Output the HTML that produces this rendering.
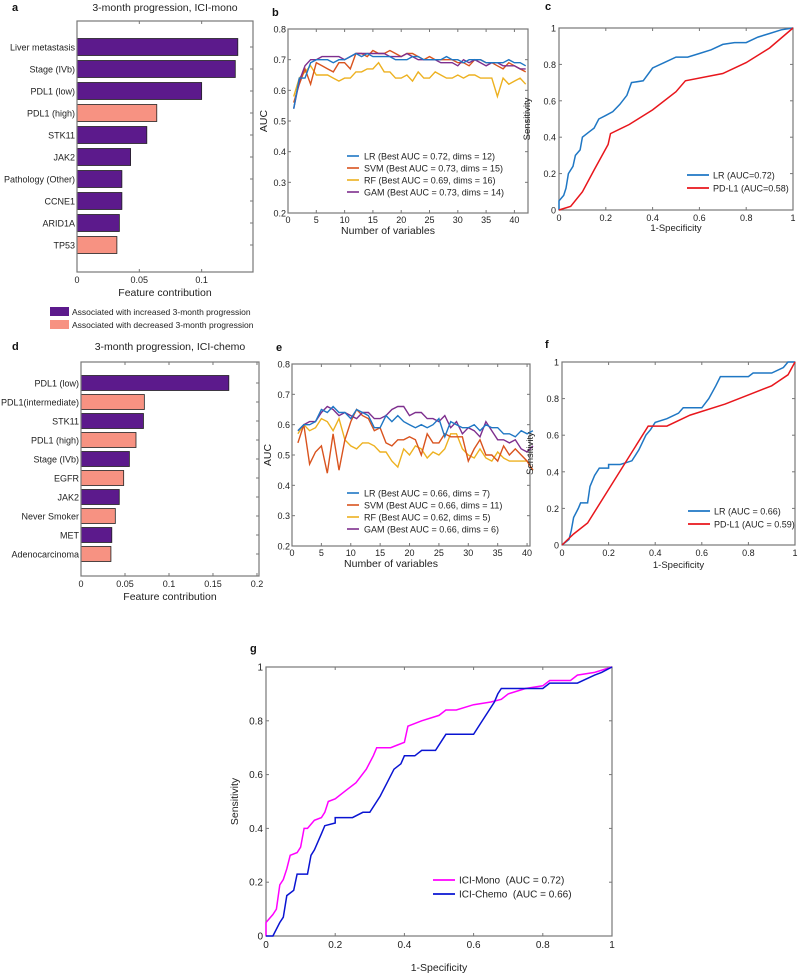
<!DOCTYPE html>
<html><head><meta charset="utf-8"><style>
body{margin:0;background:#fff;}
svg{display:block;font-family:"Liberation Sans",sans-serif;}
text{white-space:pre;}
</style></head><body>
<svg id="fig" width="798" height="976" viewBox="0 0 798 976" xmlns="http://www.w3.org/2000/svg"></svg>
<script>
// ---- Panel a data
const aLabels=["Liver metastasis","Stage (IVb)","PDL1 (low)","PDL1 (high)","STK11","JAK2","Pathology (Other)","CCNE1","ARID1A","TP53"];
const aValues=[0.129,0.127,0.100,0.064,0.056,0.043,0.036,0.036,0.034,0.032];
const aDir=["inc","inc","inc","dec","inc","inc","inc","inc","inc","dec"];
const aTicks=[0,0.05,0.1];
// ---- Panel d data
const dLabels=["PDL1 (low)","PDL1(intermediate)","STK11","PDL1 (high)","Stage (IVb)","EGFR","JAK2","Never Smoker","MET","Adenocarcinoma"];
const dValues=[0.168,0.072,0.071,0.0625,0.055,0.0485,0.0435,0.039,0.035,0.034];
const dDir=["inc","dec","inc","dec","inc","dec","inc","dec","inc","dec"];
const dTicks=[0,0.05,0.1,0.15,0.2];
// ---- Panel b data (x = 1..42)
const bLR=[0.54,0.64,0.64,0.69,0.70,0.70,0.70,0.69,0.70,0.70,0.71,0.72,0.71,0.72,0.71,0.71,0.71,0.71,0.70,0.70,0.70,0.71,0.71,0.70,0.70,0.70,0.70,0.71,0.70,0.70,0.69,0.70,0.70,0.70,0.69,0.69,0.69,0.69,0.70,0.69,0.69,0.68];
const bSVM=[0.56,0.62,0.67,0.62,0.69,0.68,0.67,0.66,0.69,0.69,0.67,0.72,0.72,0.71,0.73,0.72,0.72,0.73,0.72,0.71,0.72,0.72,0.71,0.70,0.71,0.70,0.70,0.70,0.70,0.69,0.69,0.68,0.70,0.70,0.69,0.69,0.68,0.67,0.69,0.68,0.67,0.66];
const bRF=[0.58,0.64,0.66,0.68,0.65,0.65,0.65,0.64,0.63,0.64,0.64,0.66,0.66,0.67,0.67,0.69,0.66,0.66,0.64,0.64,0.65,0.63,0.66,0.64,0.64,0.66,0.65,0.64,0.64,0.65,0.64,0.65,0.65,0.64,0.64,0.64,0.58,0.64,0.62,0.63,0.64,0.62];
const bGAM=[0.54,0.63,0.68,0.70,0.70,0.71,0.71,0.71,0.71,0.70,0.71,0.72,0.72,0.72,0.72,0.72,0.72,0.71,0.71,0.71,0.72,0.71,0.70,0.70,0.70,0.70,0.69,0.69,0.69,0.68,0.70,0.69,0.70,0.69,0.68,0.69,0.69,0.68,0.68,0.68,0.67,0.67];
const bLegend=["LR (Best AUC = 0.72, dims = 12)","SVM (Best AUC = 0.73, dims = 15)","RF (Best AUC = 0.69, dims = 16)","GAM (Best AUC = 0.73, dims = 14)"];
// ---- Panel e data (x = 1..41)
const eLR=[0.58,0.60,0.60,0.61,0.65,0.64,0.66,0.64,0.64,0.62,0.65,0.64,0.63,0.59,0.59,0.63,0.61,0.63,0.61,0.60,0.59,0.60,0.59,0.60,0.62,0.56,0.61,0.60,0.59,0.59,0.60,0.58,0.60,0.59,0.59,0.57,0.57,0.56,0.58,0.57,0.58];
const eSVM=[0.54,0.60,0.47,0.51,0.53,0.44,0.57,0.45,0.55,0.61,0.65,0.63,0.62,0.58,0.59,0.54,0.53,0.55,0.55,0.56,0.55,0.50,0.57,0.54,0.54,0.57,0.56,0.56,0.56,0.48,0.52,0.55,0.50,0.50,0.48,0.53,0.50,0.52,0.50,0.48,0.45];
const eRF=[0.57,0.60,0.58,0.59,0.62,0.61,0.58,0.62,0.55,0.53,0.52,0.54,0.54,0.53,0.51,0.51,0.48,0.46,0.52,0.50,0.53,0.52,0.49,0.51,0.50,0.52,0.57,0.57,0.52,0.50,0.49,0.52,0.49,0.48,0.51,0.49,0.48,0.48,0.48,0.48,0.45];
const eGAM=[0.58,0.60,0.61,0.61,0.64,0.66,0.65,0.63,0.64,0.63,0.62,0.64,0.64,0.62,0.62,0.63,0.65,0.66,0.66,0.63,0.64,0.64,0.62,0.62,0.61,0.63,0.59,0.61,0.57,0.59,0.58,0.56,0.61,0.58,0.55,0.55,0.54,0.55,0.52,0.51,0.53];
const eLegend=["LR (Best AUC = 0.66, dims = 7)","SVM (Best AUC = 0.66, dims = 11)","RF (Best AUC = 0.62, dims = 5)","GAM (Best AUC = 0.66, dims = 6)"];
const aucTicks=[0.2,0.3,0.4,0.5,0.6,0.7,0.8];
// ---- ROC data
const cLRfpr=[0,0,0.02,0.03,0.04,0.06,0.07,0.09,0.1,0.13,0.15,0.17,0.2,0.23,0.26,0.29,0.31,0.36,0.4,0.45,0.5,0.55,0.6,0.65,0.7,0.75,0.8,0.85,0.9,0.95,1];
const cLRtpr=[0,0.05,0.08,0.12,0.2,0.24,0.3,0.33,0.4,0.43,0.45,0.5,0.52,0.54,0.58,0.63,0.7,0.71,0.78,0.81,0.84,0.84,0.86,0.88,0.91,0.92,0.92,0.95,0.97,0.99,1];
const cPDfpr=[0,0.05,0.1,0.15,0.21,0.22,0.3,0.4,0.5,0.54,0.7,0.8,0.9,1];
const cPDtpr=[0,0.02,0.1,0.22,0.36,0.42,0.47,0.55,0.65,0.71,0.75,0.81,0.89,1];
const fLRfpr=[0,0.03,0.04,0.05,0.07,0.08,0.11,0.12,0.14,0.16,0.2,0.2,0.25,0.3,0.33,0.36,0.38,0.4,0.45,0.5,0.52,0.6,0.63,0.66,0.68,0.8,0.82,0.9,0.95,0.97,1];
const fLRtpr=[0,0.03,0.08,0.15,0.2,0.23,0.23,0.32,0.38,0.42,0.42,0.44,0.44,0.46,0.52,0.6,0.63,0.67,0.69,0.72,0.75,0.75,0.8,0.87,0.92,0.92,0.94,0.94,0.97,1,1];
const fPDfpr=[0,0.05,0.11,0.37,0.45,0.55,0.7,0.8,0.9,0.97,1];
const fPDtpr=[0,0.06,0.12,0.65,0.65,0.71,0.77,0.82,0.87,0.93,1];
const gMonoFpr=[0,0,0.02,0.03,0.04,0.05,0.06,0.07,0.09,0.1,0.11,0.12,0.14,0.16,0.17,0.18,0.2,0.23,0.26,0.29,0.31,0.32,0.36,0.38,0.4,0.41,0.45,0.5,0.52,0.55,0.6,0.65,0.68,0.7,0.75,0.8,0.82,0.88,0.9,0.95,1];
const gMonoTpr=[0,0.05,0.08,0.1,0.19,0.21,0.25,0.3,0.31,0.33,0.4,0.4,0.43,0.44,0.46,0.5,0.51,0.54,0.57,0.62,0.67,0.7,0.7,0.71,0.72,0.78,0.8,0.82,0.84,0.84,0.86,0.87,0.88,0.9,0.92,0.93,0.95,0.95,0.97,0.98,1];
const gChemoFpr=[0,0.02,0.04,0.05,0.06,0.08,0.09,0.12,0.13,0.14,0.16,0.17,0.2,0.2,0.25,0.28,0.3,0.33,0.35,0.37,0.39,0.4,0.43,0.45,0.49,0.52,0.6,0.62,0.66,0.67,0.68,0.8,0.82,0.9,0.95,0.97,1];
const gChemoTpr=[0,0,0.05,0.07,0.15,0.17,0.23,0.23,0.3,0.32,0.38,0.41,0.42,0.44,0.44,0.46,0.46,0.52,0.57,0.62,0.64,0.67,0.67,0.69,0.69,0.75,0.75,0.79,0.87,0.9,0.92,0.92,0.94,0.94,0.97,0.98,1];
const rocTicks=[0,0.2,0.4,0.6,0.8,1];
const xTicksB=[0,5,10,15,20,25,30,35,40];

const NS="http://www.w3.org/2000/svg";
const svg=document.getElementById('fig');
function mk(tag,attrs,parent){const e=document.createElementNS(NS,tag);for(const k in attrs)e.setAttribute(k,attrs[k]);(parent||svg).appendChild(e);return e;}
function txt(s,x,y,size,anchor,parent,extra){const t=mk('text',Object.assign({x:x,y:y,'font-size':size,'text-anchor':anchor||'start',fill:'#222'},extra||{}),parent);t.textContent=s;return t;}
function lin(a,b){return v=>a[0]+(v-b[0])*(a[1]-a[0])/(b[1]-b[0]);}
const AX='#777';
const MCOL={LR:'#1f77c4',SVM:'#d9531e',RF:'#edb120',GAM:'#7e2f8e'};

function frame(g,x0,y0,x1,y1){mk('rect',{x:x0,y:y0,width:x1-x0,height:y1-y0,fill:'none',stroke:AX,'stroke-width':1.2},g);}

function barPanel(name,letter,title,labels,values,dir,ticks,box,xmax,barH,titleY){
  const g=mk('g',{});
  
  
  const [x0,y0,x1,y1]=box;
  const sx=lin([x0,x1],[0,xmax]);
  const n=labels.length;
  const top=y0+(box[4]||0);
  const step=box[5];
  const ltr=mk('text',{x:12,y:titleY,'font-size':11,'font-weight':'bold',fill:'#111'},g);ltr.textContent=letter;
  
  const tt=txt(title,(x0+x1)/2,titleY,10.5,'middle',g);
  
  for(let i=0;i<n;i++){
    const cy=top+i*step;
    const r=mk('rect',{x:sx(0),y:cy-barH/2,width:sx(values[i])-sx(0),height:barH,fill:dir[i]==='inc'?'#5c1a8c':'#f79282',stroke:'#222','stroke-width':0.8},g);
    
    
    const l=txt(labels[i],x0-2,cy+3.5,9,'end',g);
    
    mk('line',{x1:x1,x2:x1-3,y1:cy,y2:cy,stroke:AX},g);
  }
  frame(g,x0,y0,x1,y1);
  ticks.forEach(t=>{
    mk('line',{x1:sx(t),x2:sx(t),y1:y1,y2:y1-3,stroke:AX},g);
    mk('line',{x1:sx(t),x2:sx(t),y1:y0,y2:y0+3,stroke:AX},g);
    const l=txt(String(t),sx(t),y1+11,9,'middle',g);
    
  });
  const xl=txt('Feature contribution',(x0+x1)/2,y1+24,10.5,'middle',g);
  
}

function aucPanel(name,letter,box,xmax,series,legend,legendY,legendX){
  const g=mk('g',{});
  
  
  const [x0,y0,x1,y1]=box;
  const sx=lin([x0,x1],[0,xmax]), sy=lin([y1,y0],[0.2,0.8]);
  const ltr=mk('text',{x:x0-16,y:y0-13,'font-size':11,'font-weight':'bold',fill:'#111'},g);ltr.textContent=letter;
  
  frame(g,x0,y0,x1,y1);
  aucTicks.forEach(t=>{
    mk('line',{x1:x0,x2:x0+3,y1:sy(t),y2:sy(t),stroke:AX},g);
    mk('line',{x1:x1,x2:x1-3,y1:sy(t),y2:sy(t),stroke:AX},g);
    const l=txt(t.toFixed(1),x0-2,sy(t)+3.5,9,'end',g);
    
  });
  xTicksB.forEach(t=>{
    mk('line',{x1:sx(t),x2:sx(t),y1:y1,y2:y1-3,stroke:AX},g);
    mk('line',{x1:sx(t),x2:sx(t),y1:y0,y2:y0+3,stroke:AX},g);
    const l=txt(String(t),sx(t),y1+10,9,'middle',g);
    
  });
  const keys=['LR','SVM','RF','GAM'];
  [2,1,3,0].forEach(k=>{
    const arr=series[k];
    const pts=arr.map((v,i)=>sx(i+1).toFixed(1)+','+sy(v).toFixed(1)).join(' ');
    const p=mk('polyline',{points:pts,fill:'none',stroke:MCOL[keys[k]],'stroke-width':1.4},g);
    
    
  });
  legend.forEach((s,i)=>{
    const y=legendY+i*12;
    const ln=mk('line',{x1:legendX,x2:legendX+12,y1:y,y2:y,stroke:MCOL[keys[i]],'stroke-width':1.6},g);
    
    const l=txt(s,legendX+17,y+3.5,9,'start',g);
    
  });
  const yl=txt('AUC',0,0,10.5,'middle',g,{transform:`translate(${x0-21},${(y0+y1)/2}) rotate(-90)`});
  
  const xl=txt('Number of variables',(x0+x1)/2-20,y1+21,10.5,'middle',g);
  
}

function rocPanel(name,letter,box,curves,legendX,legendY,fs,letterPos,labelOffsets){
  const g=mk('g',{});
  
  
  const [x0,y0,x1,y1]=box;
  const sx=lin([x0,x1],[0,1]), sy=lin([y1,y0],[0,1]);
  const ltr=mk('text',{x:letterPos[0],y:letterPos[1],'font-size':11,'font-weight':'bold',fill:'#111'},g);ltr.textContent=letter;
  
  frame(g,x0,y0,x1,y1);
  rocTicks.forEach(t=>{
    mk('line',{x1:x0,x2:x0+3,y1:sy(t),y2:sy(t),stroke:AX},g);
    mk('line',{x1:x1,x2:x1-3,y1:sy(t),y2:sy(t),stroke:AX},g);
    mk('line',{x1:sx(t),x2:sx(t),y1:y1,y2:y1-3,stroke:AX},g);
    mk('line',{x1:sx(t),x2:sx(t),y1:y0,y2:y0+3,stroke:AX},g);
    const lab=t===0||t===1?String(t):t.toFixed(1);
    const a=txt(lab,x0-3,sy(t)+3.5,fs,'end',g);
    
    const b=txt(lab,sx(t),y1+fs+2,fs,'middle',g);
    
  });
  curves.forEach((c,i)=>{
    const pts=c.fpr.map((v,j)=>sx(v).toFixed(1)+','+sy(c.tpr[j]).toFixed(1)).join(' ');
    const p=mk('polyline',{points:pts,fill:'none',stroke:c.color,'stroke-width':1.5},g);
    
    const y=legendY+i*(fs+4);
    const ln=mk('line',{x1:legendX,x2:legendX+22,y1:y,y2:y,stroke:c.color,'stroke-width':1.7},g);
    
    const l=txt(c.label,legendX+26,y+3.5,fs,'start',g);
    
  });
  const yl=txt('Sensitivity',0,0,fs+0.5,'middle',g,{transform:`translate(${x0-labelOffsets[0]},${(y0+y1)/2}) rotate(-90)`});
  
  const xl=txt('1-Specificity',(x0+x1)/2,y1+labelOffsets[1],fs+0.5,'middle',g);
  
}

barPanel('panel-a-feature-bars','a','3-month progression, ICI-mono',aLabels,aValues,aDir,aTicks,[77,21,253,272,26,22],0.1412,17,11);
const lg=mk('g',{});


const s1=mk('rect',{x:50,y:307,width:19,height:9,fill:'#5c1a8c'},lg);

const s2=mk('rect',{x:50,y:320,width:19,height:9,fill:'#f79282'},lg);

const t1=txt('Associated with increased 3-month progression',72,315,8.5,'start',lg);

const t2=txt('Associated with decreased 3-month progression',72,328,8.5,'start',lg);


barPanel('panel-d-feature-bars','d','3-month progression, ICI-chemo',dLabels,dValues,dDir,dTicks,[81,362,259,576,21,19],0.2023,15,350);

aucPanel('panel-b-auc-lines','b',[288,29,528,213],42.4,[bLR,bSVM,bRF,bGAM],bLegend,156,347);
aucPanel('panel-e-auc-lines','e',[292,364,530,546],40.5,[eLR,eSVM,eRF,eGAM],eLegend,493,347);

rocPanel('panel-c-roc','c',[559,28,793,210],[
  {key:'lr',fpr:cLRfpr,tpr:cLRtpr,color:'#1f77c4',label:'LR (AUC=0.72)'},
  {key:'pd-l1',fpr:cPDfpr,tpr:cPDtpr,color:'#e8161c',label:'PD-L1 (AUC=0.58)'}],687,175,9,[545,10],[29,21]);
rocPanel('panel-f-roc','f',[562,362,795,545],[
  {key:'lr',fpr:fLRfpr,tpr:fLRtpr,color:'#1f77c4',label:'LR (AUC = 0.66)'},
  {key:'pd-l1',fpr:fPDfpr,tpr:fPDtpr,color:'#e8161c',label:'PD-L1 (AUC = 0.59)'}],688,511,9,[545,348],[29,23]);
rocPanel('panel-g-roc','g',[266,667,612,936],[
  {key:'ici-mono',fpr:gMonoFpr,tpr:gMonoTpr,color:'#ff00ff',label:'ICI-Mono  (AUC = 0.72)'},
  {key:'ici-chemo',fpr:gChemoFpr,tpr:gChemoTpr,color:'#0a14d2',label:'ICI-Chemo  (AUC = 0.66)'}],433,880,10,[250,652],[28,35]);
</script>
</body></html>
